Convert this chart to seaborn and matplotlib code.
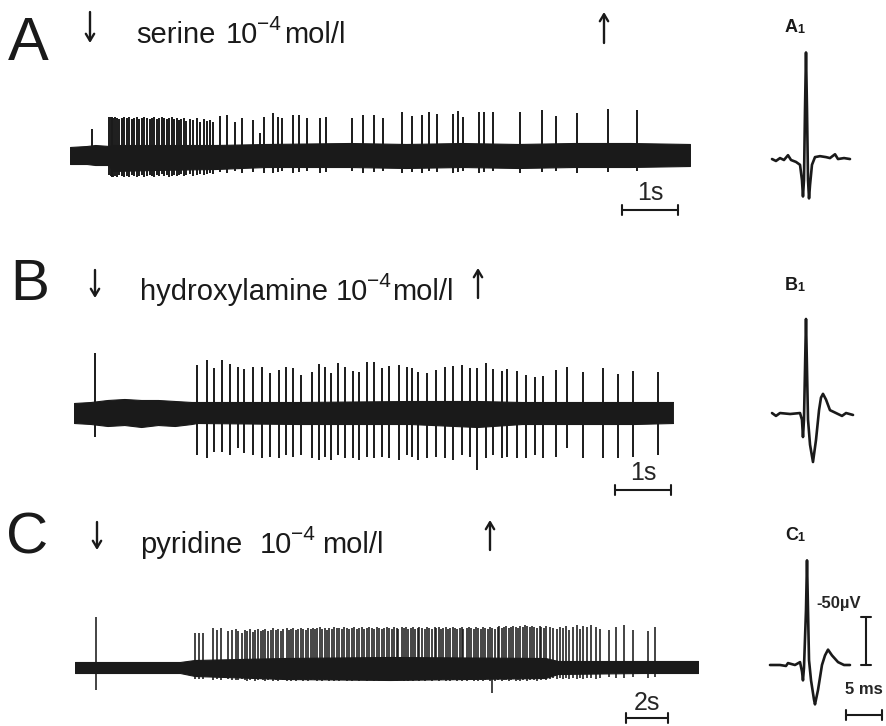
import numpy as np
import matplotlib
matplotlib.use("Agg")
import matplotlib.pyplot as plt
import seaborn as sns

# ---------------- data ----------------
# Trace A: serine
a_duration = 11.07  # s
a_spike_t = [0.39, 0.70, 0.73, 0.75, 0.77, 0.80, 0.84, 0.88, 0.92, 0.96,
             1.01, 1.06, 1.10, 1.14, 1.19, 1.24, 1.28, 1.32, 1.37, 1.42,
             1.46, 1.50, 1.55, 1.59, 1.64, 1.68, 1.73, 1.77, 1.82, 1.86,
             1.91, 1.95, 1.99, 2.04, 2.08, 2.14, 2.19, 2.26, 2.32, 2.39,
             2.44, 2.50, 2.56, 2.68, 2.80, 2.95, 3.08, 3.27, 3.39, 3.46,
             3.63, 3.72, 3.78, 3.99, 4.09, 4.23, 4.46, 4.58, 5.03, 5.23,
             5.42, 5.59, 5.93, 6.11, 6.29, 6.41, 6.55, 6.84, 6.93, 7.02,
             7.30, 7.39, 7.55, 8.04, 8.43, 8.68, 9.05, 9.61, 10.13]
a_spike_up = [26, 38, 38, 38, 37, 38, 37, 36, 37, 38,
              37, 38, 36, 37, 38, 36, 37, 38, 37, 36,
              37, 38, 36, 37, 38, 37, 36, 37, 38, 36,
              37, 35, 36, 37, 34, 36, 35, 37, 33, 36,
              34, 35, 33, 39, 40, 33, 37, 35, 22, 38,
              42, 38, 37, 40, 40, 37, 37, 38, 37, 40,
              40, 37, 43, 39, 40, 43, 41, 41, 44, 38,
              43, 43, 43, 43, 45, 39, 42, 46, 45]
a_spike_down = [8, 20, 21, 22, 22, 21, 22, 20, 21, 22,
                21, 22, 20, 21, 22, 21, 20, 22, 21, 20,
                21, 22, 20, 21, 19, 21, 20, 22, 21, 20,
                21, 20, 19, 21, 20, 19, 21, 20, 19, 20,
                19, 18, 19, 17, 18, 16, 18, 17, 12, 18,
                18, 17, 16, 18, 17, 16, 18, 17, 16, 18,
                17, 16, 18, 17, 18, 16, 17, 18, 17, 16,
                18, 17, 16, 18, 17, 16, 18, 17, 16]
a_env_t = [0.0, 0.3, 0.45, 0.7, 0.75, 1.5, 2.6, 3.5, 5.0, 6.0, 7.0, 8.0, 9.0, 10.0, 11.07]
a_env_hi = [8, 9, 10, 9, 10, 10, 10, 11, 12, 11, 12, 11, 12, 12, 11]
a_env_lo = [-9, -9, -10, -10, -16, -15, -14, -12, -12, -13, -12, -13, -12, -12, -11]

# Trace B: hydroxylamine
b_duration = 10.70
b_spike_t = [0.38, 2.20, 2.38, 2.50, 2.64, 2.79, 2.93, 3.04, 3.20, 3.36,
             3.50, 3.66, 3.79, 3.91, 4.05, 4.25, 4.38, 4.48, 4.59, 4.71,
             4.84, 4.98, 5.09, 5.23, 5.36, 5.50, 5.63, 5.80, 5.95, 6.04,
             6.14, 6.30, 6.46, 6.63, 6.77, 6.93, 7.07, 7.20, 7.36, 7.48,
             7.64, 7.73, 7.91, 8.07, 8.23, 8.38, 8.61, 8.80, 9.09, 9.45,
             9.71, 9.98, 10.43]
b_spike_up = [59, 47, 52, 44, 52, 48, 45, 43, 45, 45,
              39, 42, 45, 44, 37, 40, 48, 45, 39, 49,
              45, 41, 40, 50, 50, 44, 46, 47, 45, 44,
              40, 39, 42, 45, 46, 47, 44, 44, 49, 43,
              41, 43, 41, 37, 35, 36, 42, 45, 40, 44,
              38, 41, 40]
b_spike_down = [25, 43, 46, 40, 40, 43, 36, 41, 43, 46,
                45, 46, 43, 45, 43, 46, 48, 45, 48, 43,
                46, 46, 48, 45, 46, 45, 46, 48, 43, 45,
                48, 46, 45, 46, 48, 43, 45, 58, 46, 43,
                46, 45, 46, 46, 43, 46, 45, 36, 46, 46,
                46, 45, 43]
b_env_t = [0.0, 0.3, 0.6, 0.9, 1.2, 1.5, 1.8, 2.1, 2.2, 4.0, 6.0, 7.2, 8.0, 10.0, 10.70]
b_env_hi = [9, 10, 12, 13, 12, 12, 11, 10, 10, 10, 11, 11, 10, 10, 10]
b_env_lo = [-11, -12, -14, -13, -15, -13, -14, -12, -11, -12, -12, -15, -12, -12, -11]

# Trace C: pyridine
c_duration = 29.67
c_spike_t = [1.00, 5.71, 5.90, 6.10, 6.57, 6.76, 6.95, 7.29, 7.48, 7.67,
             7.76, 7.95, 8.10, 8.19, 8.33, 8.48, 8.57, 8.71, 8.86, 8.95,
             9.05, 9.19, 9.33, 9.43, 9.57, 9.67, 9.81, 9.90, 10.10, 10.19,
             10.29, 10.38, 10.52, 10.62, 10.76, 10.86, 11.00, 11.10, 11.24, 11.33,
             11.43, 11.52, 11.67, 11.76, 11.90, 12.00, 12.10, 12.24, 12.33, 12.48,
             12.57, 12.71, 12.81, 12.95, 13.05, 13.19, 13.29, 13.43, 13.52, 13.67,
             13.76, 13.90, 14.00, 14.14, 14.24, 14.38, 14.48, 14.62, 14.71, 14.86,
             14.95, 15.08, 15.21, 15.33, 15.40, 15.55, 15.67, 15.74, 15.86, 16.02,
             16.10, 16.21, 16.33, 16.40, 16.52, 16.69, 16.76, 16.86, 16.98, 17.12,
             17.19, 17.33, 17.45, 17.52, 17.67, 17.74, 17.88, 18.00, 18.10, 18.21,
             18.33, 18.43, 18.50, 18.67, 18.76, 18.88, 19.00, 19.08, 19.19, 19.35,
             19.43, 19.52, 19.69, 19.76, 19.86, 20.00, 20.12, 20.19, 20.33, 20.41,
             20.52, 20.67, 20.76, 20.88, 21.00, 21.10, 21.21, 21.33, 21.43, 21.52,
             21.67, 21.76, 21.86, 22.00, 22.12, 22.19, 22.33, 22.43, 22.62, 22.76,
             22.95, 23.10, 23.24, 23.38, 23.52, 23.71, 23.90, 24.05, 24.19, 24.38,
             24.57, 24.81, 25.00, 25.43, 25.76, 26.14, 26.57, 27.29, 27.62]
c_spike_up = [50, 34, 34, 34, 39, 37, 39, 36, 37, 38,
              36, 34, 37, 36, 38, 35, 37, 38, 36, 37,
              38, 36, 37, 39, 37, 38, 36, 38, 39, 37,
              38, 39, 37, 38, 39, 38, 37, 39, 38, 39,
              38, 39, 40, 38, 39, 37, 39, 38, 40, 39,
              39, 38, 40, 39, 38, 39, 40, 38, 39, 40,
              38, 39, 40, 39, 38, 40, 39, 38, 39, 40,
              39, 38, 40, 39, 38, 40, 39, 40, 38, 39,
              40, 38, 39, 40, 39, 38, 40, 39, 38, 40,
              39, 40, 38, 39, 40, 38, 39, 40, 39, 38,
              39, 40, 38, 39, 40, 39, 38, 40, 39, 38,
              40, 39, 38, 40, 39, 38, 40, 41, 39, 40,
              41, 39, 40, 41, 40, 39, 41, 40, 42, 41,
              40, 41, 40, 39, 41, 40, 39, 41, 40, 39,
              38, 40, 39, 41, 37, 40, 42, 38, 41, 40,
              42, 40, 38, 37, 40, 42, 37, 36, 40]
c_spike_down = [23, 12, 12, 12, 13, 12, 13, 12, 13, 13,
                13, 12, 13, 14, 13, 12, 14, 13, 12, 13,
                14, 13, 12, 14, 13, 14, 12, 13, 14, 13,
                14, 13, 14, 12, 13, 14, 13, 14, 13, 12,
                13, 14, 13, 14, 13, 12, 14, 13, 14, 13,
                14, 13, 12, 14, 13, 14, 13, 12, 14, 13,
                13, 14, 13, 12, 14, 13, 14, 13, 12, 14,
                13, 14, 13, 14, 12, 13, 14, 13, 14, 13,
                14, 13, 12, 14, 13, 14, 13, 12, 14, 13,
                13, 14, 13, 12, 14, 13, 14, 13, 12, 14,
                13, 14, 13, 14, 12, 13, 14, 13, 14, 13,
                14, 13, 12, 14, 26, 14, 13, 12, 14, 13,
                13, 14, 13, 12, 14, 13, 14, 13, 12, 14,
                13, 12, 13, 14, 12, 13, 12, 13, 12, 11,
                12, 11, 12, 11, 12, 11, 12, 11, 12, 11,
                11, 12, 11, 10, 11, 11, 10, 11, 10]
c_env_t = [0.0, 5.0, 5.7, 10.0, 15.0, 22.4, 23.0, 27.0, 29.67]
c_env_hi = [5, 5, 7, 9, 10, 9, 6, 6, 6]
c_env_lo = [-6, -6, -9, -12, -13, -11, -7, -6, -6]

# Single unit waveforms (ms, microvolts)
a1_t = [-4.72, -4.17, -3.61, -3.06, -2.50, -2.08, -1.39, -0.83, -0.56, -0.42, -0.28, -0.14,
        0.00, 0.14, 0.28, 0.42, 0.56, 0.83, 1.25, 1.94, 2.78, 3.33, 4.03, 4.44, 5.28, 6.11]
a1_v = [1, -1, 2, 0, 5, 0, -2, -5, -21, -38, -21, 52,
        112, 52, -21, -40, -26, -5, 3, 4, 3, 2, 6, 1, 2, 1]
b1_t = [-4.72, -4.17, -3.61, -2.20, -0.83, -0.56, -0.42, -0.28, -0.14, 0.00, 0.14, 0.28,
        0.56, 0.97, 1.39, 1.81, 2.08, 2.36, 2.78, 3.33, 3.89, 4.44, 5.00, 5.56, 6.53]
b1_v = [1, -2, 1, 0, 1, -6, -24, -6, 46, 99, 46, -6,
        -32, -50, -27, 4, 17, 21, 15, 4, 2, 0, -2, 1, -1]
c1_t = [-5.14, -3.75, -2.92, -2.64, -1.67, -0.97, -0.69, -0.56, -0.42, -0.14, 0.00, 0.14,
        0.28, 0.56, 0.97, 1.11, 1.53, 2.08, 2.50, 2.92, 3.47, 4.31, 5.14, 5.97]
c1_v = [0, 0, -1, 2, 0, 3, -7, -16, -3, 57, 109, 57,
        5, -16, -36, -41, -26, 0, 10, 16, 10, 3, 0, 0]

# labels
panel_letters = ["A", "B", "C"]
substances = ["serine", "hydroxylamine", "pyridine"]
conc_base, conc_exp, conc_unit = "10", "\u22124", "mol/l"
time_bars = [1, 1, 2]          # s
volt_bar, ms_bar = 50, 5      # µV, ms

# ---------------- layout ----------------
W, H = 887, 726
sns.set_theme(style="white")
plt.rcParams["font.family"] = ["Liberation Sans", "DejaVu Sans"]
fig = plt.figure(figsize=(W / 100, H / 100), dpi=100)


def box(l, t, r, b):
    return [l / W, 1 - b / H, (r - l) / W, (b - t) / H]


def ftext(x, y, s, size, **kw):
    fig.text(x / W, 1 - y / H, s, fontsize=size, ha=kw.pop("ha", "left"),
             va=kw.pop("va", "baseline"), color="k", **kw)


def trace_axes(left, pps, base, half, dur):
    ax = fig.add_axes(box(left, base - half, left + dur * pps, base + half))
    ax.set_xlim(0, dur)
    ax.set_ylim(-half, half)
    ax.axis("off")
    return ax


def draw_trace(ax, t, up, dn, et, ehi, elo, lw):
    ax.fill_between(et, elo, ehi, color="k", lw=0.8, edgecolor="k")
    ax.vlines(t, -np.asarray(dn), np.asarray(up), color="k", lw=lw)


def time_bar(ax, x0, length, y, label, ly):
    ax.plot([x0, x0 + length], [y, y], color="k", lw=1.5, clip_on=False)
    for xx in (x0, x0 + length):
        ax.plot([xx, xx], [y - 5, y + 5], color="k", lw=1.5, clip_on=False)
    ax.text(x0 + length / 2, ly, label, ha="center", va="baseline", fontsize=18)


traces = [
    (70, 56, 155, 80, a_duration, a_spike_t, a_spike_up, a_spike_down, a_env_t, a_env_hi, a_env_lo, 1.4),
    (74, 56, 412, 85, b_duration, b_spike_t, b_spike_up, b_spike_down, b_env_t, b_env_hi, b_env_lo, 1.4),
    (75, 21, 667, 60, c_duration, c_spike_t, c_spike_up, c_spike_down, c_env_t, c_env_hi, c_env_lo, 1.15),
]
bar_pos = [(9.86, -55, -45), (9.66, -78, -68), (26.24, -51, -43)]
for (left, pps, base, half, dur, t, up, dn, et, ehi, elo, lw), (bx, by, ly), tb in zip(traces, bar_pos, time_bars):
    ax = trace_axes(left, pps, base, half, dur)
    draw_trace(ax, t, up, dn, et, ehi, elo, lw)
    time_bar(ax, bx, tb, by, f"{tb}s", ly)

# waveform panels
PX_MS, PX_UV = 7.2, 0.96
wave_specs = [(806, 160, a1_t, a1_v), (806, 414, b1_t, b1_v), (807, 665, c1_t, c1_v)]
wave_axes = []
for (px, py, wt, wv) in wave_specs:
    xl, xr, yb, yt = -6.5, 11.5, -80, 140
    ax = fig.add_axes(box(px + xl * PX_MS, py - yt * PX_UV, px + xr * PX_MS, py - yb * PX_UV))
    ax.set_xlim(xl, xr)
    ax.set_ylim(yb, yt)
    ax.axis("off")
    sns.lineplot(x=wt, y=wv, ax=ax, color="k", lw=1.9, sort=False, estimator=None)
    wave_axes.append(ax)

# calibration bars on C1
axc = wave_axes[2]
vx = 8.2
axc.plot([vx, vx], [0, volt_bar], color="k", lw=1.5, clip_on=False)
for yy in (0, volt_bar):
    axc.plot([vx - 0.7, vx + 0.7], [yy, yy], color="k", lw=1.5, clip_on=False)
axc.text(1.3, 59, f"-{volt_bar}\u00b5V", fontsize=12, ha="left", va="baseline", fontweight="bold")
mx0, my = 5.4, -52
axc.plot([mx0, mx0 + ms_bar], [my, my], color="k", lw=1.5, clip_on=False)
for xx in (mx0, mx0 + ms_bar):
    axc.plot([xx, xx], [my - 5, my + 5], color="k", lw=1.5, clip_on=False)
axc.text(mx0 + ms_bar / 2, -30, f"{ms_bar} ms", fontsize=12, ha="center", va="baseline", fontweight="bold")

# ---------------- text and arrows ----------------
ftext(8, 60, panel_letters[0], 44)
ftext(10, 300, panel_letters[1], 42)
ftext(6, 553, panel_letters[2], 42)

# substance labels: (name_x, base_x, exp_x, unit_x, baseline)
label_pos = [(136, 226, 257, 284, 43), (140, 336, 367, 392, 300), (140, 260, 291, 322, 553)]
for name, (nx, bx_, ex, ux, yb) in zip(substances, label_pos):
    ftext(nx, yb, name, 21)
    ftext(bx_, yb, conc_base, 21)
    ftext(ex, yb - 13, conc_exp, 15)
    ftext(ux, yb, conc_unit, 21)

# stimulus arrows (on / off)
arrows = [((90, 12, 43), (604, 43, 12)),
          ((95, 270, 298), (478, 298, 268)),
          ((97, 522, 550), (490, 550, 520))]
for on, off in arrows:
    for (x, y0, y1) in (on, off):
        fig.patches.append(matplotlib.patches.FancyArrowPatch(
            (x / W, 1 - y0 / H), (x / W, 1 - y1 / H), transform=fig.transFigure,
            arrowstyle="->,head_length=5,head_width=3", color="k", lw=1.7,
            shrinkA=0, shrinkB=0))

# sub-panel labels
for letter, (x, y) in zip(panel_letters, [(785, 32), (785, 290), (785, 540)]):
    ftext(x, y, letter, 13, fontweight="bold")
    ftext(x + 12, y + 1, "1", 9, fontweight="bold")

fig.savefig("out.png", dpi=100, facecolor="white")
